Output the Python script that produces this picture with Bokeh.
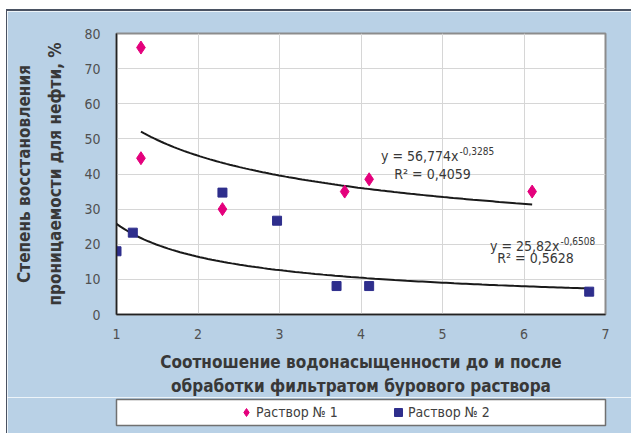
import numpy as np
from bokeh.plotting import figure
from bokeh.models import Label, Legend, LegendItem, Range1d, FixedTicker, Spacer
from bokeh.layouts import column, row
from bokeh.embed import file_html
from bokeh.resources import INLINE

# Series 1: "Раствор № 1"
x1 = [1.3, 1.3, 2.3, 3.8, 4.1, 6.1]
y1 = [76.0, 44.5, 30.0, 35.0, 38.5, 35.0]
# Series 2: "Раствор № 2"
x2 = [1.0, 1.2, 2.3, 2.97, 3.7, 4.1, 6.8]
y2 = [18.0, 23.3, 34.7, 26.7, 8.1, 8.1, 6.5]

# Power trend lines y = a * x^b
a1, b1, r1 = 56.774, -0.3285, "0,4059"
a2, b2, r2 = 25.82, -0.6508, "0,5628"

x_ticks = [1, 2, 3, 4, 5, 6, 7]
y_ticks = [0, 10, 20, 30, 40, 50, 60, 70, 80]

x_title = "Соотношение водонасыщенности до и после\nобработки фильтратом бурового раствора"
y_title = "Степень восстановления\nпроницаемости для нефти, %"
names = ["Раствор № 1", "Раствор № 2"]

BG = "#b9d1e6"
PINK = "#e4007c"
NAVY = "#2e2e8c"
FONT = "DejaVu Sans Condensed, Liberation Sans Narrow, Liberation Sans"
TXT = "#383838"
EDGE = "1px solid #4a5262"

# ---- main chart ----
p = figure(width=625, height=388, output_backend="svg", toolbar_location=None,
           x_range=Range1d(1, 7), y_range=Range1d(0, 80),
           min_border_left=109, min_border_right=27,
           min_border_top=22, min_border_bottom=85)
p.styles = {"border-top": "2px solid #4a5262", "border-left": EDGE}
p.border_fill_color = BG
p.background_fill_color = "white"
p.outline_line_color = "#8c8c8c"
p.outline_line_width = 2

for ax in (p.xaxis, p.yaxis):
    ax.axis_line_color = "#222222"
    ax.axis_line_width = 1.5
    ax.major_tick_line_color = None
    ax.minor_tick_line_color = None
    ax.major_label_text_font = FONT
    ax.major_label_text_font_size = "14px"
    ax.major_label_text_color = "#505050"
    ax.axis_label_text_font = FONT
    ax.axis_label_text_font_style = "bold"
    ax.axis_label_text_color = TXT
    ax.axis_label_text_font_size = "17px"
p.xaxis.ticker = FixedTicker(ticks=x_ticks)
p.yaxis.ticker = FixedTicker(ticks=y_ticks)
p.xaxis.major_label_standoff = 8
p.yaxis.major_label_standoff = 10
p.xaxis.axis_label = x_title
p.yaxis.axis_label = y_title
p.xaxis.axis_label_standoff = 10
p.yaxis.axis_label_standoff = 16
p.xaxis.axis_label_text_line_height = 1.2
p.yaxis.axis_label_text_line_height = 1.55

p.xgrid.ticker = FixedTicker(ticks=x_ticks)
p.ygrid.ticker = FixedTicker(ticks=y_ticks)
p.grid.grid_line_color = "#d6d6d6"
p.grid.grid_line_width = 1

# trend curves over each series' x span
tx1 = np.linspace(min(x1), max(x1), 120)
tx2 = np.linspace(min(x2), max(x2), 120)
p.line(tx1, a1 * tx1 ** b1, line_color="#1a1a1a", line_width=2)
p.line(tx2, a2 * tx2 ** b2, line_color="#1a1a1a", line_width=2)

diamond = dict(marker="diamond", size=13, fill_color=PINK, line_color=PINK)
square = dict(marker="square", size=9, fill_color=NAVY, line_color=NAVY)
p.scatter(x1, y1, **diamond)
p.scatter(x2, y2, **square)


def add_label(x, y, text, size, align="left"):
    p.add_layout(Label(x=x, y=y, x_units="screen", y_units="screen", text=text,
                       text_font=FONT, text_font_size=size, text_color=TXT,
                       text_align=align, text_baseline="middle"))


# equations of the trend lines
fmt = lambda v: f"{v}".replace(".", ",")
add_label(342, 159, f"y = {fmt(a1)}x", "14px", align="right")
add_label(343, 164, fmt(b1), "10px")
add_label(316, 141, f"R² = {r1}", "14px", align="center")
add_label(443, 69, f"y = {fmt(a2)}x", "14px", align="right")
add_label(444, 74, fmt(b2), "10px")
add_label(419, 57, f"R² = {r2}", "14px", align="center")

# ---- legend strip: its frame is the white legend box ----
# the series are re-plotted here only as legend keys; the 0..1 y range keeps
# every point outside the strip's frame
lg = figure(width=625, height=36, output_backend="svg", toolbar_location=None,
            x_range=Range1d(0, 1), y_range=Range1d(0, 1),
            x_axis_location=None, y_axis_location=None,
            min_border_left=109, min_border_right=27,
            min_border_top=2, min_border_bottom=8)
lg.styles = {"border-left": EDGE}
lg.grid.visible = False
lg.border_fill_color = BG
lg.background_fill_color = "white"
lg.outline_line_color = "#707070"
lg.outline_line_width = 1.5

keys = [lg.scatter(x1, y1, **diamond), lg.scatter(x2, y2, **square)]
for name, rend, xpos in zip(names, keys, (120, 272)):
    lg.add_layout(Legend(items=[LegendItem(label=name, renderers=[rend])],
                         location=(xpos, 3), orientation="horizontal",
                         padding=0, margin=0, glyph_width=20, glyph_height=20,
                         label_standoff=0, background_fill_alpha=0,
                         border_line_alpha=0, label_text_font=FONT,
                         label_text_font_size="14px",
                         label_text_color="#404040"))

layout = column(Spacer(width=632, height=9),
                row(Spacer(width=6, height=426), column(p, lg)))

open("out.html", "w").write(file_html(layout, INLINE))
